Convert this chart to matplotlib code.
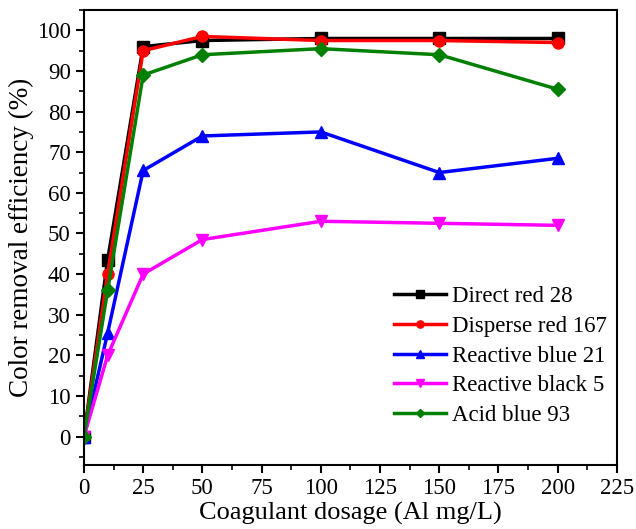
import matplotlib.pyplot as plt
from matplotlib.ticker import MultipleLocator

plt.rcParams['font.family'] = ['Liberation Serif', 'DejaVu Serif']

# dosage (Al mg/L)
dosage = [0, 10, 25, 50, 100, 150, 200]

direct_red_28 = [0, 43.5, 96, 97.5, 98, 98, 98]
disperse_red_167 = [0, 40, 95, 98.5, 97.5, 97.5, 97]
reactive_blue_21 = [0, 25.5, 65.5, 74, 75, 65, 68.5]
reactive_black_5 = [0, 20, 40, 48.5, 53, 52.5, 52]
acid_blue_93 = [0, 36, 89, 94, 95.5, 94, 85.5]

series = [
    ('Direct red 28', direct_red_28, 'black', 's'),
    ('Disperse red 167', disperse_red_167, 'red', 'o'),
    ('Reactive blue 21', reactive_blue_21, 'blue', '^'),
    ('Reactive black 5', reactive_black_5, 'magenta', 'v'),
    ('Acid blue 93', acid_blue_93, 'green', 'D'),
]

fig = plt.figure(figsize=(6.36, 5.29), dpi=100)
ax = fig.add_axes([0.132, 0.121, 0.838, 0.860])

for name, vals, col, mk in series:
    ms = 7 if mk == 'D' else 8
    ax.plot(dosage, vals, color=col, marker=mk, markersize=ms, linewidth=2.5,
            label=name)

ax.set_xlim(0, 225)
ax.set_ylim(-7, 105)
ax.xaxis.set_major_locator(MultipleLocator(25))
ax.xaxis.set_minor_locator(MultipleLocator(12.5))
ax.yaxis.set_major_locator(MultipleLocator(10))
ax.yaxis.set_minor_locator(MultipleLocator(5))
ax.tick_params(which='major', direction='out', length=6, width=1.5, labelsize=16.5)
ax.tick_params(which='minor', direction='out', length=3.5, width=1.2)
for sp in ax.spines.values():
    sp.set_linewidth(1.5)

ax.set_xlabel('Coagulant dosage (Al mg/L)', fontsize=19, labelpad=2)
ax.set_ylabel('Color removal efficiency (%)', fontsize=19.5, labelpad=2)

ax.legend(loc='lower right', bbox_to_anchor=(1.02, 0.04), frameon=False,
          fontsize=16.5, handlelength=2.3, handletextpad=0.25, labelspacing=0.38,
          markerscale=0.65)

fig.savefig('out.png', dpi=100)
